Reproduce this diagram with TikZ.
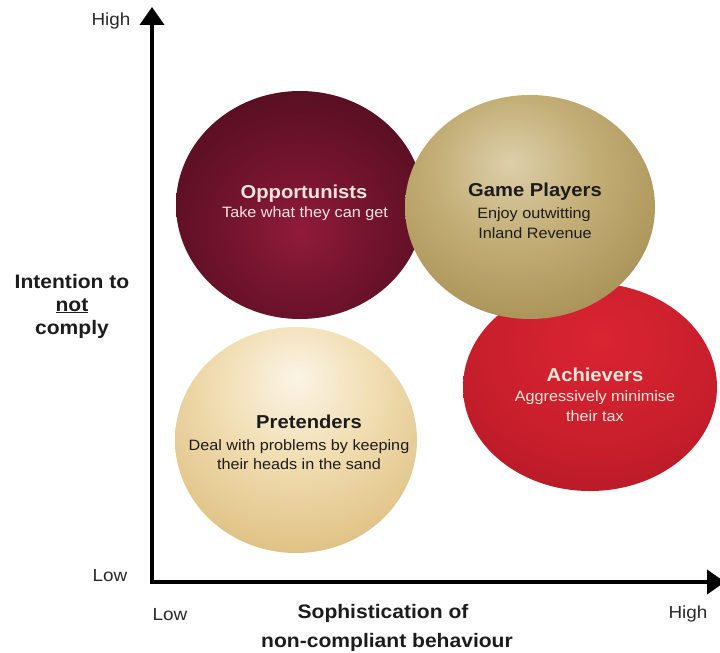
\documentclass[tikz,border=0pt]{standalone}
\usepackage{fontspec}
\newfontfamily\arialw[FakeStretch=1.08]{Liberation Sans}
\usetikzlibrary{arrows.meta,shapes.geometric}

% palette
\definecolor{oppIn}{HTML}{901B3A}
\definecolor{oppMid}{HTML}{74142E}
\definecolor{oppOut}{HTML}{370914}
\definecolor{gamIn}{HTML}{DCCFAA}
\definecolor{gamMid}{HTML}{C3AE76}
\definecolor{gamOut}{HTML}{8E7536}
\definecolor{achIn}{HTML}{DA2432}
\definecolor{achMid}{HTML}{C81E2C}
\definecolor{achOut}{HTML}{98121E}
\definecolor{preIn}{HTML}{FBF4E6}
\definecolor{preMid}{HTML}{F1DEB3}
\definecolor{preOut}{HTML}{CBA04E}
\definecolor{lightTxt}{HTML}{F6E6DA}
\definecolor{darkTxt}{HTML}{1C1C1C}
\definecolor{tickTxt}{HTML}{2A2A2A}

% radial fills of the four groups
\pgfdeclareradialshading{oppshade}{\pgfpoint{0bp}{-6bp}}{color(0bp)=(oppIn); color(14bp)=(oppMid); color(48bp)=(oppOut); color(100bp)=(oppOut)}
\pgfdeclareradialshading{gamshade}{\pgfpoint{-4bp}{10bp}}{color(0bp)=(gamIn); color(16bp)=(gamMid); color(52bp)=(gamOut); color(100bp)=(gamOut)}
\pgfdeclareradialshading{achshade}{\pgfpoint{2bp}{12bp}}{color(0bp)=(achIn); color(24bp)=(achMid); color(56bp)=(achOut); color(100bp)=(achOut)}
\pgfdeclareradialshading{preshade}{\pgfpoint{0bp}{14bp}}{color(0bp)=(preIn); color(16bp)=(preMid); color(56bp)=(preOut); color(100bp)=(preOut)}

\tikzset{
  blob/.style={ellipse, draw=none, inner sep=0pt},
  ttl/.style={font=\arialw\bfseries\fontsize{18.7bp}{22bp}\selectfont, anchor=base, inner sep=0pt},
  sub/.style={font=\arialw\fontsize{15bp}{18bp}\selectfont, anchor=base, inner sep=0pt},
  light/.style={text=lightTxt},
  dark/.style={text=darkTxt},
  axl/.style={font=\arialw\bfseries\fontsize{19.5bp}{23bp}\selectfont, anchor=base, inner sep=0pt, text=darkTxt},
  tick/.style={font=\arialw\fontsize{17.5bp}{20bp}\selectfont, anchor=base, inner sep=0pt, text=tickTxt}
}

\begin{document}
\begin{tikzpicture}[x=1bp, y=-1bp]
\useasboundingbox (0,0) rectangle (720,653);
\fill[white] (0,0) rectangle (720,653);

% axes
\coordinate (origin) at (152,582);
\coordinate (ytip) at (152,7);
\coordinate (xtip) at (725,582);
\draw[line width=4bp, black, line join=miter,
      {Triangle[length=18bp,width=24bp]}-{Triangle[length=18bp,width=24bp]}]
  (ytip) -- (origin) -- (xtip);

% groups
\node[blob, shading=oppshade, minimum width=248bp, minimum height=228bp] (opp) at (300,205) {};
\node[blob, shading=achshade, minimum width=254bp, minimum height=208bp] (ach) at (590,387) {};
\node[blob, shading=gamshade, minimum width=250bp, minimum height=224bp] (gam) at (530,207) {};
\node[blob, shading=preshade, minimum width=242bp, minimum height=226bp] (pre) at (296,440) {};

% group texts
\node[ttl,light] (oppT) at (304,198) {Opportunists};
\node[sub,light] (oppS) at (305,217) {Take what they can get};

\node[ttl,dark] (gamT) at (535,196) {Game Players};
\node[sub,dark] (gamS1) at (534,218) {Enjoy outwitting};
\node[sub,dark] (gamS2) at (535,238) {Inland Revenue};

\node[ttl,light] (achT) at (595,381) {Achievers};
\node[sub,light] (achS1) at (595,401) {Aggressively minimise};
\node[sub,light] (achS2) at (595,421) {their tax};

\node[ttl,dark] (preT) at (309,428) {Pretenders};
\node[sub,dark] (preS1) at (299,450) {Deal with problems by keeping};
\node[sub,dark] (preS2) at (299,469) {their heads in the sand};

% axis titles
\node[axl] (yl1) at (72,288) {Intention to};
\node[axl] (yl2) at (72,311) {\underline{not}};
\node[axl] (yl3) at (72,334) {comply};
\node[axl] (xl1) at (383,618) {Sophistication of};
\node[axl] (xl2) at (387,647) {non-compliant behaviour};

% scale ends
\node[tick] (yhi) at (111,26) {High};
\node[tick] (ylo) at (110,581) {Low};
\node[tick] (xlo) at (170,620) {Low};
\node[tick] (xhi) at (688,618) {High};
\end{tikzpicture}
\end{document}
